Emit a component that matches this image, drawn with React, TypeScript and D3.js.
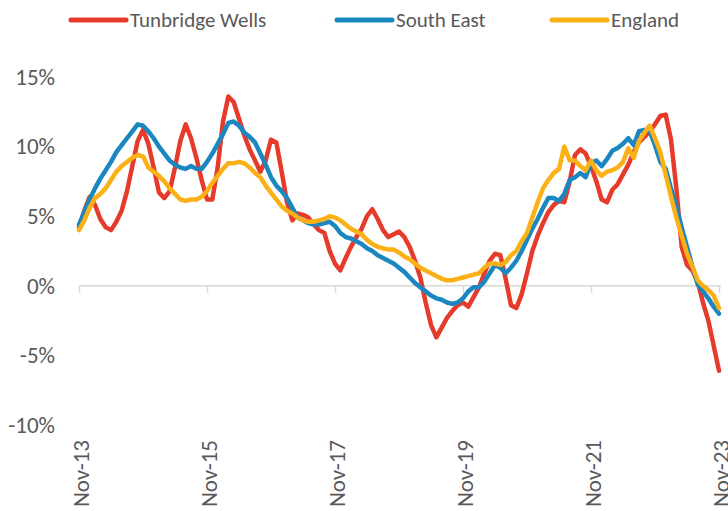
import { useEffect, useRef } from 'react';
import * as d3 from 'd3';

// monthly annual change (%), Nov-13 .. Nov-23
const tunbridgeWells = [
  4.2, 5.4, 6.4, 5.8, 4.8, 4.2, 4.0, 4.6, 5.4, 6.8, 8.6, 10.4, 11.2, 10.2, 8.5, 6.7, 6.3, 6.8, 8.5, 10.4,
  11.6, 10.6, 9.2, 7.6, 6.2, 6.2, 8.5, 11.8, 13.6, 13.2, 12.0, 10.8, 9.8, 9.0, 8.2, 9.0, 10.5, 10.3, 8.2, 6.0,
  4.7, 5.2, 5.1, 4.9, 4.4, 4.0, 3.8, 2.5, 1.6, 1.1, 2.0, 2.8, 3.5, 4.1, 5.0, 5.5, 4.8, 4.0, 3.5, 3.7,
  3.9, 3.5, 2.8, 1.8, 0.6, -1.2, -2.8, -3.7, -3.0, -2.3, -1.8, -1.4, -1.2, -1.5, -0.8, -0.1, 0.9, 1.8, 2.3, 2.2,
  0.5, -1.4, -1.6, -0.6, 0.9, 2.5, 3.6, 4.5, 5.3, 5.8, 6.1, 6.0, 7.5, 9.4, 9.8, 9.5, 8.6, 7.5, 6.2, 6.0,
  6.9, 7.3, 8.0, 8.7, 9.6, 10.3, 10.7, 11.1, 11.6, 12.2, 12.3, 10.5, 7.0, 2.8, 1.5, 1.1, 0.3, -1.2, -2.5, -4.3,
  -6.1,
];

const southEast = [
  4.4, 5.3, 6.2, 7.0, 7.7, 8.3, 8.9, 9.6, 10.1, 10.6, 11.1, 11.6, 11.5, 11.1, 10.6, 10.0, 9.5, 9.0, 8.7, 8.5,
  8.4, 8.6, 8.4, 8.4, 8.9, 9.5, 10.2, 10.9, 11.7, 11.8, 11.5, 11.0, 10.7, 10.3, 9.5, 8.7, 7.8, 7.2, 6.8, 6.3,
  5.6, 4.9, 4.7, 4.5, 4.4, 4.4, 4.5, 4.6, 4.3, 3.8, 3.5, 3.4, 3.2, 3.0, 2.7, 2.5, 2.2, 2.0, 1.8, 1.6,
  1.3, 1.0, 0.6, 0.2, -0.1, -0.4, -0.7, -0.9, -1.0, -1.2, -1.3, -1.2, -0.9, -0.4, -0.1, -0.1, 0.3, 0.9, 1.5, 1.3,
  0.9, 1.3, 1.8, 2.5, 3.3, 4.1, 4.8, 5.6, 6.3, 6.3, 6.1, 6.6, 7.6, 7.8, 8.1, 7.8, 8.8, 9.0, 8.6, 9.1,
  9.7, 9.9, 10.2, 10.6, 10.1, 11.1, 11.2, 11.1, 10.1, 8.9, 8.4, 7.0, 5.7, 4.2, 2.8, 1.4, 0.1, -0.4, -0.9, -1.5,
  -2.0,
];

const england = [
  4.0, 4.7, 5.6, 6.3, 6.6, 7.0, 7.6, 8.2, 8.6, 8.9, 9.2, 9.4, 9.3, 8.5, 8.2, 7.9, 7.5, 7.0, 6.6, 6.2,
  6.1, 6.2, 6.2, 6.4, 6.8, 7.4, 7.9, 8.4, 8.8, 8.8, 8.9, 8.8, 8.5, 8.1, 7.8, 7.2, 6.7, 6.2, 5.7, 5.4,
  5.2, 4.9, 4.7, 4.6, 4.6, 4.7, 4.8, 5.0, 4.9, 4.7, 4.4, 4.1, 3.9, 3.7, 3.3, 3.0, 2.8, 2.7, 2.6, 2.6,
  2.4, 2.1, 1.9, 1.6, 1.3, 1.1, 0.9, 0.7, 0.5, 0.4, 0.4, 0.5, 0.6, 0.7, 0.8, 0.9, 1.3, 1.6, 1.6, 1.5,
  1.7, 2.2, 2.5, 3.2, 3.8, 4.9, 6.0, 7.0, 7.6, 8.1, 8.4, 10.0, 9.0, 9.0, 8.6, 8.3, 9.0, 8.3, 7.9, 8.2,
  8.3, 8.5, 8.9, 9.9, 9.2, 10.4, 11.0, 11.5, 10.6, 9.6, 8.0, 6.4, 4.9, 3.6, 2.3, 1.4, 0.4, 0.0, -0.3, -0.7,
  -1.6,
];

const yTicks = [-10, -5, 0, 5, 10, 15];
const xTickMonths = [0, 24, 48, 72, 96, 120];
const xTickLabels = ['Nov-13', 'Nov-15', 'Nov-17', 'Nov-19', 'Nov-21', 'Nov-23'];

const SERIES = [
  { key: 'tw', label: 'Tunbridge Wells', color: '#e63a2b', values: tunbridgeWells },
  { key: 'se', label: 'South East', color: '#1a87c1', values: southEast },
  { key: 'en', label: 'England', color: '#fbb116', values: england },
];

const FONT = "Carlito, Calibri, Lato, 'Open Sans', sans-serif";
const TEXT = '#595959';

export default function App() {
  const svgRef = useRef<SVGSVGElement>(null);
  const width = 728;
  const height = 511;

  useEffect(() => {
    if (!svgRef.current) return;
    const svg = d3.select(svgRef.current);
    svg.selectAll('*').remove();

    const xScale = d3.scaleLinear().domain([0, 120]).range([79, 719]);
    const yScale = d3.scaleLinear().domain([-10, 15]).range([425, 77]);

    // zero axis with ticks
    const xAxis = d3
      .axisBottom(xScale)
      .tickValues(xTickMonths)
      .tickSize(7)
      .tickSizeOuter(0)
      .tickFormat(() => '');

    const ax = svg.append('g').attr('transform', `translate(0,${yScale(0)})`).call(xAxis);
    ax.select('.domain').attr('stroke', '#d9d9d9').attr('stroke-width', 1.5).attr('d', `M${xScale(0)},0H${xScale(120) + 2}`);
    ax.selectAll('.tick line').attr('stroke', '#d9d9d9').attr('stroke-width', 1.5);

    // y labels
    svg
      .append('g')
      .selectAll('text')
      .data(yTicks)
      .enter()
      .append('text')
      .attr('x', 55)
      .attr('y', (d) => yScale(d))
      .attr('dy', '0.34em')
      .attr('text-anchor', 'end')
      .attr('fill', TEXT)
      .style('font-family', FONT)
      .style('font-size', '23px')
      .text((d) => `${d}%`);

    // x labels, rotated
    svg
      .append('g')
      .selectAll('text')
      .data(xTickMonths)
      .enter()
      .append('text')
      .attr('transform', (d) => `translate(${xScale(d) + 10},440) rotate(-90)`)
      .attr('text-anchor', 'end')
      .attr('fill', TEXT)
      .style('font-family', FONT)
      .style('font-size', '23px')
      .text((_, i) => xTickLabels[i]);

    const line = d3
      .line<number>()
      .x((_, i) => xScale(i))
      .y((d) => yScale(d));

    svg
      .append('g')
      .selectAll('path')
      .data(SERIES)
      .enter()
      .append('path')
      .attr('d', (s) => line(s.values))
      .attr('fill', 'none')
      .attr('stroke', (s) => s.color)
      .attr('stroke-width', 4.5)
      .attr('stroke-linejoin', 'round')
      .attr('stroke-linecap', 'round');

    // legend
    const legendX = [71, 337, 552];
    const leg = svg
      .append('g')
      .selectAll('g')
      .data(SERIES)
      .enter()
      .append('g')
      .attr('transform', (_, i) => `translate(${legendX[i]},20)`);
    leg
      .append('line')
      .attr('x1', 0)
      .attr('x2', 55)
      .attr('stroke', (s) => s.color)
      .attr('stroke-width', 5)
      .attr('stroke-linecap', 'round');
    leg
      .append('text')
      .attr('x', 59)
      .attr('dy', '0.34em')
      .attr('fill', TEXT)
      .style('font-family', FONT)
      .style('font-size', '21px')
      .text((s) => s.label);
  }, []);

  return (
    <div style={{ position: 'absolute', left: 0, top: 0, width, height, background: '#fff' }}>
      <svg ref={svgRef} width={width} height={height}></svg>
    </div>
  );
}
